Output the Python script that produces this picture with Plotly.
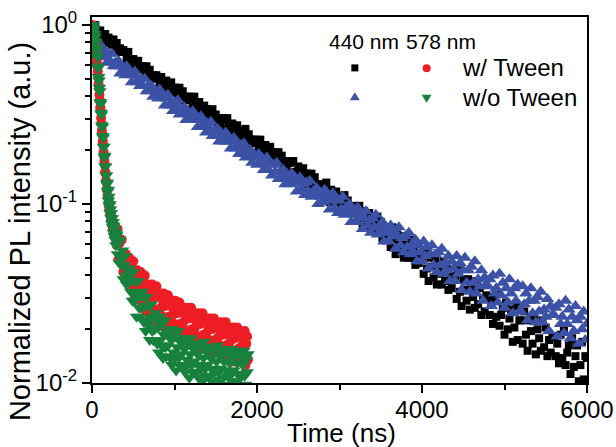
import plotly.graph_objects as go

# ---------------- data ----------------
# time bins (ns)
time_440 = list(range(0, 6001, 20))                                   # 301 bins
time_578 = list(range(0, 300, 5)) + list(range(300, 1891, 10))        # 220 bins

# log10 of normalized PL intensity
log_440_tween = [
    0.00, -0.03, 0.00, -0.03, -0.06, -0.03, -0.05, -0.07, -0.05, -0.10,
    -0.07, -0.09, -0.11, -0.08, -0.12, -0.10, -0.15, -0.13, -0.15, -0.14,
    -0.15, -0.19, -0.15, -0.19, -0.22, -0.19, -0.20, -0.23, -0.20, -0.25,
    -0.23, -0.24, -0.26, -0.23, -0.27, -0.25, -0.29, -0.28, -0.30, -0.28,
    -0.29, -0.33, -0.29, -0.32, -0.35, -0.31, -0.33, -0.36, -0.32, -0.38,
    -0.35, -0.37, -0.39, -0.35, -0.39, -0.37, -0.42, -0.40, -0.42, -0.40,
    -0.41, -0.46, -0.40, -0.45, -0.48, -0.43, -0.46, -0.49, -0.45, -0.51,
    -0.47, -0.49, -0.52, -0.47, -0.52, -0.50, -0.55, -0.52, -0.55, -0.52,
    -0.53, -0.58, -0.52, -0.57, -0.60, -0.55, -0.57, -0.60, -0.56, -0.63,
    -0.59, -0.61, -0.63, -0.58, -0.64, -0.61, -0.66, -0.64, -0.66, -0.64,
    -0.65, -0.69, -0.64, -0.69, -0.72, -0.67, -0.69, -0.72, -0.68, -0.75,
    -0.71, -0.73, -0.76, -0.71, -0.76, -0.73, -0.79, -0.76, -0.79, -0.76,
    -0.77, -0.83, -0.76, -0.82, -0.86, -0.79, -0.82, -0.86, -0.80, -0.89,
    -0.83, -0.86, -0.89, -0.83, -0.89, -0.85, -0.92, -0.89, -0.92, -0.89,
    -0.90, -0.96, -0.88, -0.95, -0.99, -0.92, -0.95, -0.99, -0.93, -1.02,
    -0.96, -0.99, -1.02, -0.95, -1.02, -0.98, -1.05, -1.02, -1.05, -1.01,
    -1.03, -1.09, -1.01, -1.07, -1.13, -1.04, -1.08, -1.12, -1.05, -1.15,
    -1.09, -1.11, -1.15, -1.07, -1.15, -1.10, -1.19, -1.14, -1.18, -1.14,
    -1.16, -1.24, -1.13, -1.21, -1.28, -1.17, -1.21, -1.26, -1.18, -1.30,
    -1.22, -1.26, -1.30, -1.20, -1.30, -1.24, -1.34, -1.28, -1.33, -1.28,
    -1.30, -1.39, -1.26, -1.36, -1.43, -1.30, -1.35, -1.41, -1.31, -1.45,
    -1.35, -1.39, -1.45, -1.32, -1.43, -1.36, -1.48, -1.41, -1.47, -1.40,
    -1.42, -1.53, -1.37, -1.49, -1.57, -1.42, -1.48, -1.54, -1.42, -1.59,
    -1.47, -1.52, -1.58, -1.43, -1.56, -1.47, -1.62, -1.53, -1.60, -1.51,
    -1.52, -1.62, -1.56, -1.67, -1.52, -1.63, -1.50, -1.68, -1.62, -1.58,
    -1.73, -1.55, -1.70, -1.64, -1.59, -1.77, -1.69, -1.57, -1.76, -1.65,
    -1.65, -1.78, -1.60, -1.73, -1.82, -1.65, -1.71, -1.78, -1.64, -1.84,
    -1.70, -1.75, -1.82, -1.65, -1.80, -1.69, -1.85, -1.76, -1.83, -1.74,
    -1.74, -1.85, -1.78, -1.89, -1.73, -1.86, -1.70, -1.90, -1.83, -1.79,
    -1.95, -1.75, -1.91, -1.85, -1.79, -1.99, -1.90, -1.77, -1.98, -1.85,
    -1.86,
]
log_440_no_tween = [
    -0.02, -0.02, -0.09, -0.10, -0.16, -0.14, -0.12, -0.18, -0.16, -0.21,
    -0.16, -0.20, -0.16, -0.23, -0.21, -0.23, -0.20, -0.27, -0.23, -0.25,
    -0.28, -0.23, -0.27, -0.26, -0.32, -0.28, -0.26, -0.32, -0.30, -0.34,
    -0.30, -0.34, -0.30, -0.37, -0.34, -0.37, -0.34, -0.40, -0.36, -0.38,
    -0.41, -0.36, -0.40, -0.39, -0.45, -0.41, -0.39, -0.45, -0.43, -0.48,
    -0.43, -0.46, -0.42, -0.50, -0.47, -0.49, -0.46, -0.53, -0.48, -0.50,
    -0.53, -0.48, -0.53, -0.51, -0.57, -0.53, -0.51, -0.57, -0.55, -0.60,
    -0.55, -0.58, -0.54, -0.62, -0.59, -0.61, -0.58, -0.65, -0.60, -0.62,
    -0.65, -0.60, -0.65, -0.63, -0.69, -0.65, -0.63, -0.69, -0.67, -0.72,
    -0.67, -0.70, -0.66, -0.74, -0.71, -0.73, -0.70, -0.77, -0.72, -0.74,
    -0.78, -0.72, -0.77, -0.74, -0.81, -0.77, -0.74, -0.81, -0.78, -0.84,
    -0.78, -0.82, -0.77, -0.86, -0.82, -0.85, -0.81, -0.89, -0.83, -0.86,
    -0.89, -0.83, -0.88, -0.85, -0.93, -0.88, -0.85, -0.92, -0.89, -0.95,
    -0.88, -0.93, -0.87, -0.96, -0.93, -0.95, -0.91, -1.00, -0.93, -0.96,
    -0.99, -0.92, -0.98, -0.95, -1.03, -0.97, -0.94, -1.02, -0.98, -1.05,
    -0.98, -1.03, -0.96, -1.06, -1.02, -1.05, -1.00, -1.10, -1.03, -1.06,
    -1.10, -1.02, -1.08, -1.05, -1.14, -1.08, -1.04, -1.12, -1.09, -1.16,
    -1.08, -1.13, -1.06, -1.17, -1.13, -1.16, -1.10, -1.21, -1.13, -1.16,
    -1.21, -1.12, -1.18, -1.15, -1.25, -1.18, -1.13, -1.23, -1.19, -1.27,
    -1.18, -1.24, -1.16, -1.28, -1.23, -1.27, -1.20, -1.32, -1.23, -1.27,
    -1.32, -1.21, -1.29, -1.24, -1.36, -1.28, -1.23, -1.34, -1.28, -1.38,
    -1.27, -1.34, -1.25, -1.39, -1.33, -1.37, -1.29, -1.43, -1.32, -1.36,
    -1.43, -1.29, -1.39, -1.33, -1.48, -1.37, -1.30, -1.44, -1.37, -1.49,
    -1.35, -1.44, -1.32, -1.50, -1.42, -1.46, -1.37, -1.54, -1.41, -1.45,
    -1.46, -1.42, -1.57, -1.40, -1.50, -1.47, -1.55, -1.39, -1.51, -1.44,
    -1.58, -1.47, -1.55, -1.42, -1.50, -1.61, -1.47, -1.54, -1.45, -1.60,
    -1.60, -1.46, -1.56, -1.50, -1.65, -1.54, -1.47, -1.61, -1.54, -1.66,
    -1.52, -1.60, -1.49, -1.66, -1.59, -1.63, -1.53, -1.71, -1.57, -1.62,
    -1.62, -1.58, -1.74, -1.56, -1.67, -1.63, -1.72, -1.54, -1.67, -1.59,
    -1.75, -1.63, -1.71, -1.57, -1.65, -1.78, -1.63, -1.70, -1.60, -1.76,
    -1.67,
]
log_578_tween = [
    -0.01, 0.00, -0.02, -0.02, -0.05, -0.06, -0.08, -0.10, -0.12, -0.13,
    -0.16, -0.18, -0.21, -0.23, -0.26, -0.29, -0.33, -0.35, -0.39, -0.42,
    -0.46, -0.48, -0.52, -0.55, -0.59, -0.61, -0.65, -0.67, -0.71, -0.73,
    -0.76, -0.78, -0.82, -0.83, -0.87, -0.88, -0.92, -0.92, -0.96, -0.96,
    -1.00, -0.99, -1.03, -1.02, -1.06, -1.05, -1.09, -1.07, -1.11, -1.09,
    -1.13, -1.11, -1.15, -1.12, -1.17, -1.14, -1.18, -1.15, -1.20, -1.17,
    -1.23, -1.14, -1.31, -1.22, -1.20, -1.31, -1.20, -1.31, -1.38, -1.28,
    -1.34, -1.28, -1.40, -1.34, -1.40, -1.30, -1.46, -1.37, -1.35, -1.46,
    -1.32, -1.45, -1.52, -1.39, -1.45, -1.37, -1.53, -1.44, -1.51, -1.38,
    -1.58, -1.46, -1.42, -1.56, -1.40, -1.53, -1.60, -1.47, -1.53, -1.45,
    -1.60, -1.51, -1.58, -1.45, -1.65, -1.52, -1.48, -1.62, -1.46, -1.59,
    -1.66, -1.52, -1.59, -1.50, -1.65, -1.57, -1.63, -1.50, -1.69, -1.57,
    -1.53, -1.66, -1.51, -1.63, -1.70, -1.57, -1.63, -1.54, -1.69, -1.61,
    -1.67, -1.54, -1.74, -1.61, -1.57, -1.70, -1.55, -1.67, -1.74, -1.60,
    -1.67, -1.58, -1.73, -1.64, -1.71, -1.58, -1.77, -1.64, -1.61, -1.74,
    -1.58, -1.70, -1.77, -1.64, -1.70, -1.61, -1.76, -1.67, -1.74, -1.61,
    -1.80, -1.67, -1.63, -1.77, -1.61, -1.73, -1.80, -1.66, -1.73, -1.64,
    -1.79, -1.70, -1.76, -1.64, -1.83, -1.70, -1.66, -1.79, -1.64, -1.76,
    -1.83, -1.69, -1.75, -1.67, -1.82, -1.73, -1.79, -1.66, -1.86, -1.73,
    -1.69, -1.82, -1.66, -1.79, -1.86, -1.72, -1.78, -1.69, -1.84, -1.76,
    -1.82, -1.69, -1.88, -1.75, -1.71, -1.85, -1.69, -1.81, -1.88, -1.74,
    -1.80, -1.72, -1.87, -1.78, -1.84, -1.71, -1.90, -1.78, -1.74, -1.87,
]
log_578_no_tween = [
    0.00, -0.01, 0.00, -0.03, -0.02, -0.05, -0.06, -0.07, -0.10, -0.09,
    -0.13, -0.14, -0.17, -0.18, -0.23, -0.24, -0.29, -0.31, -0.35, -0.37,
    -0.43, -0.44, -0.49, -0.50, -0.56, -0.57, -0.62, -0.63, -0.68, -0.68,
    -0.74, -0.73, -0.79, -0.79, -0.84, -0.84, -0.89, -0.88, -0.93, -0.92,
    -0.98, -0.96, -1.01, -1.00, -1.05, -1.03, -1.08, -1.05, -1.11, -1.08,
    -1.13, -1.10, -1.16, -1.12, -1.18, -1.14, -1.20, -1.16, -1.23, -1.18,
    -1.17, -1.28, -1.22, -1.33, -1.20, -1.30, -1.34, -1.26, -1.42, -1.34,
    -1.29, -1.40, -1.45, -1.36, -1.42, -1.36, -1.39, -1.49, -1.43, -1.54,
    -1.38, -1.51, -1.54, -1.43, -1.63, -1.50, -1.43, -1.58, -1.63, -1.51,
    -1.58, -1.49, -1.52, -1.66, -1.57, -1.71, -1.52, -1.65, -1.68, -1.57,
    -1.76, -1.64, -1.56, -1.71, -1.76, -1.63, -1.70, -1.61, -1.64, -1.78,
    -1.69, -1.83, -1.63, -1.76, -1.79, -1.67, -1.86, -1.73, -1.65, -1.80,
    -1.85, -1.72, -1.79, -1.70, -1.72, -1.86, -1.76, -1.90, -1.70, -1.83,
    -1.86, -1.74, -1.93, -1.80, -1.71, -1.86, -1.90, -1.77, -1.84, -1.75,
    -1.77, -1.91, -1.81, -1.94, -1.75, -1.87, -1.90, -1.78, -1.97, -1.84,
    -1.75, -1.90, -1.94, -1.81, -1.88, -1.78, -1.80, -1.94, -1.84, -1.97,
    -1.78, -1.90, -1.92, -1.80, -1.99, -1.86, -1.77, -1.92, -1.96, -1.83,
    -1.90, -1.80, -1.82, -1.96, -1.86, -1.99, -1.80, -1.92, -1.94, -1.82,
    -2.01, -1.88, -1.79, -1.94, -1.98, -1.85, -1.92, -1.82, -1.84, -1.97,
    -1.88, -2.01, -1.81, -1.93, -1.96, -1.84, -2.02, -1.89, -1.81, -1.95,
    -1.99, -1.86, -1.93, -1.83, -1.85, -1.99, -1.89, -2.02, -1.82, -1.95,
    -1.97, -1.85, -2.04, -1.90, -1.82, -1.96, -2.01, -1.87, -1.94, -1.84,
]

y_ticks = [0.01, 0.1, 1]
y_tick_text = ["10<sup>-2</sup>", "10<sup>-1</sup>", "10<sup>0</sup>"]
y_minor = [0.02, 0.03, 0.04, 0.05, 0.06, 0.07, 0.08, 0.09,
           0.2, 0.3, 0.4, 0.5, 0.6, 0.7, 0.8, 0.9]
x_ticks = [0, 2000, 4000, 6000]
x_minor = [1000, 3000, 5000]

BLACK = "#000000"
BLUE = "#3B52A6"
RED = "#EE1D24"
GREEN = "#17813D"
FONT = "Liberation Sans, Arial, sans-serif"


def lin(vals):
    return [10 ** v for v in vals]


fig = go.Figure()
fig.add_trace(go.Scatter(x=time_440, y=lin(log_440_tween), mode="markers",
                         marker=dict(symbol="square", size=8, color=BLACK, line=dict(width=0)),
                         name="440 nm w/ Tween", showlegend=False))
fig.add_trace(go.Scatter(x=time_440, y=lin(log_440_no_tween), mode="markers",
                         marker=dict(symbol="triangle-up", size=12, color=BLUE, line=dict(width=0)),
                         name="440 nm w/o Tween", showlegend=False))
fig.add_trace(go.Scatter(x=time_578, y=lin(log_578_tween), mode="markers",
                         marker=dict(symbol="circle", size=10, color=RED, line=dict(width=0)),
                         name="578 nm w/ Tween", showlegend=False))
fig.add_trace(go.Scatter(x=time_578, y=lin(log_578_no_tween), mode="markers",
                         marker=dict(symbol="triangle-down", size=12, color=GREEN, line=dict(width=0)),
                         name="578 nm w/o Tween", showlegend=False))

axis_common = dict(showline=True, linecolor="black", linewidth=2, mirror=True,
                   ticks="outside", ticklen=8, tickwidth=2, tickcolor="black",
                   showgrid=False, zeroline=False, automargin=False,
                   tickfont=dict(family=FONT, size=24, color="black"))

fig.update_xaxes(range=[0, 6000], tickmode="array", tickvals=x_ticks,
                 ticklabelstandoff=-4,
                 minor=dict(tickmode="array", tickvals=x_minor, ticks="outside",
                            ticklen=5, tickwidth=2, tickcolor="black"),
                 **axis_common)
fig.update_yaxes(type="log", range=[-2, 0.045], tickmode="array",
                 tickvals=y_ticks, ticktext=y_tick_text,
                 minor=dict(tickmode="array", tickvals=y_minor, ticks="outside",
                            ticklen=5, tickwidth=2, tickcolor="black"),
                 **axis_common)

annotations = [
    dict(text="Normalized PL intensity (a.u.)", x=-0.1455, y=0.415, xref="paper", yref="paper",
         textangle=-90, showarrow=False, xanchor="center", yanchor="middle",
         font=dict(family=FONT, size=29, color="black")),
    dict(text="Time (ns)", x=0.504, y=-0.137, xref="paper", yref="paper",
         showarrow=False, xanchor="center", yanchor="middle",
         font=dict(family=FONT, size=26, color="black")),
    dict(text="440 nm", x=0.549, y=0.932, xref="paper", yref="paper", showarrow=False,
         xanchor="center", yanchor="middle", font=dict(family=FONT, size=21, color="black")),
    dict(text="578 nm", x=0.705, y=0.932, xref="paper", yref="paper", showarrow=False,
         xanchor="center", yanchor="middle", font=dict(family=FONT, size=21, color="black")),
    dict(text="w/ Tween", x=0.743, y=0.861, xref="paper", yref="paper", showarrow=False,
         xanchor="left", yanchor="middle", font=dict(family=FONT, size=24, color="black")),
    dict(text="w/o Tween", x=0.743, y=0.781, xref="paper", yref="paper", showarrow=False,
         xanchor="left", yanchor="middle", font=dict(family=FONT, size=24, color="black")),
]


def sym(path, xa, ya, color):
    return dict(type="path", path=path, xref="paper", yref="paper",
                xsizemode="pixel", ysizemode="pixel", xanchor=xa, yanchor=ya,
                fillcolor=color, line=dict(width=0))


shapes = [
    dict(type="rect", xref="paper", yref="paper", xsizemode="pixel", ysizemode="pixel",
         xanchor=0.531, yanchor=0.861, x0=-3.5, x1=3.5, y0=-3.5, y1=3.5,
         fillcolor=BLACK, line=dict(width=0)),
    dict(type="circle", xref="paper", yref="paper", xsizemode="pixel", ysizemode="pixel",
         xanchor=0.676, yanchor=0.860, x0=-4, x1=4, y0=-4, y1=4,
         fillcolor=RED, line=dict(width=0)),
    sym("M-5,-3.5 L5,-3.5 L0,4.5 Z", 0.531, 0.782, BLUE),
    sym("M-5,3.5 L5,3.5 L0,-4.5 Z", 0.676, 0.778, GREEN),
]

fig.update_layout(width=616, height=447, margin=dict(l=92, r=29, t=17, b=64),
                  paper_bgcolor="white", plot_bgcolor="white",
                  showlegend=False, annotations=annotations, shapes=shapes,
                  font=dict(family=FONT, color="black"))

fig.write_html("out.html")
